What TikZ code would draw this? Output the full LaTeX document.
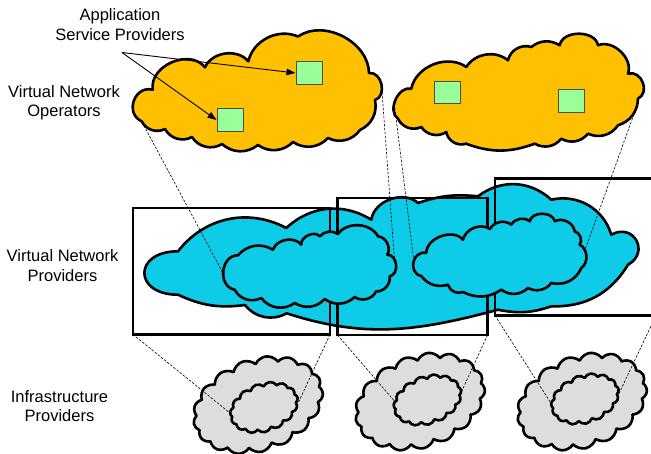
\documentclass[tikz,border=0pt]{standalone}
\usepackage{fontspec}
\setmainfont{Liberation Sans}
\usetikzlibrary{shapes.symbols,arrows.meta}

\definecolor{vnoFill}{RGB}{255,192,0}
\definecolor{vnpFill}{RGB}{14,203,232}
\definecolor{inpFill}{RGB}{221,221,221}
\definecolor{aspFill}{RGB}{153,255,153}

\begin{document}
\begin{tikzpicture}[x=1pt,y=-1pt,
  cloudline/.style={draw=black,line width=2.6pt,line join=round},
  puff/.style={bend left=#1},
  puffL/.style 2 args={bend left=#1,looseness=#2},
  infcloud/.style={cloud,cloudline,fill=inpFill,cloud ignores aspect,
                   cloud puff arc=120,inner sep=0pt},
  rectbox/.style={draw=black,line width=2.8pt,minimum width=#1,inner sep=0pt,outer sep=0pt},
  aspbox/.style={draw=black!70,fill=aspFill,line width=1pt,minimum width=26pt,
                 minimum height=22.5pt,inner sep=0pt},
  link/.style={draw=black,line width=0.6pt,dash pattern=on 2.5pt off 1.5pt},
  aspArrow/.style={draw=black,line width=0.9pt,-{Triangle[length=9pt,width=6.5pt]}},
  lbl/.style={align=center,inner sep=0pt,font=\fontsize{16.5}{19.5}\selectfont}]
\useasboundingbox (0,0) rectangle (651,453);

% ---------- virtual network operators (orange clouds) ----------
\draw[cloudline,fill=vnoFill] (141.7,121.3)
  to[puffL={85}{1.45}] (152.7,89.7)
  to[puffL={75}{1.1}] (205,67.3)
  to[puff=58] (248.3,61.3)
  to[puff=50] (298,36.5)
  to[puff=62] (369,73)
  to[puffL={85}{1.2}] (375,100)
  to[puff=38] (360,130)
  to[puff=40] (328,138)
  to[puff=40] (293,142)
  to[puff=40] (258,145)
  to[puff=40] (222,144)
  to[puff=45] (192,137)
  to[puff=45] (165,129)
  to[puff=45] (141.7,121.3) -- cycle;

\draw[cloudline,fill=vnoFill] (398,118.7)
  to[puffL={80}{1.05}] (411.3,88.7)
  to[puff=57] (466.3,67)
  to[puff=48] (508,60.3)
  to[puff=48] (531.3,47)
  to[puff=35] (559.7,45.3)
  to[puffL={80}{1.05}] (598,45.3)
  to[puff=66] (628,73.7)
  to[puffL={85}{1.33}] (638,98.7)
  to[puff=35] (618,125.3)
  to[puff=40] (588,133.7)
  to[puff=40] (561.3,138.7)
  to[puff=40] (534.7,143.7)
  to[puff=20] (466,143.7)
  to[puff=50] (446.3,132)
  to[puff=45] (421.3,127)
  to[puff=45] (398,118.7) -- cycle;

% ---------- virtual network providers (blue clouds) ----------
\draw[cloudline,fill=vnpFill] (178,294.7)
  to[puffL={90}{2.65}] (178,251.3)
  to[puff=40] (286.3,228)
  to[puff=37] (371.3,219.7)
  to[puff=62] (418,203)
  to[puff=12] (478,196.3)
  to[puff=40] (551.3,199.7)
  to[puff=43] (611.3,234.7)
  to[puffL={90}{1.9}] (628,264.7)
  to[puff=30] (551.3,306.3)
  to[puff=15] (498,309.7)
  to[out=195,in=-18] (286.7,313.3)
  to[puff=40] (245,305)
  to[puff=16] (178,294.7) -- cycle;

% slices of the infrastructure
\node[rectbox=197pt,minimum height=126.5pt] (rA) at (231.5,271.25) {};
\node[rectbox=150pt,minimum height=137pt] (rB) at (412.5,266.5) {};
\node[rectbox=161pt,minimum height=137pt] (rC) at (575.5,247) {};

% operators mapped onto provider networks
\coordinate (o1L) at (142,122);
\coordinate (o1R) at (382,92);
\coordinate (o2L) at (394.8,108);
\coordinate (o2R) at (638,103);
\coordinate (i1L) at (223.5,274);
\coordinate (i1R) at (394.5,260);
\coordinate (i2L) at (414,262);
\coordinate (i2R) at (585,250);
\draw[link] (o1L) -- (i1L);
\draw[link] (o1R) -- (i1R);
\draw[link] (o2L) -- (i2L);
\draw[link] (o2R) -- (i2R);

\draw[cloudline,fill=vnpFill] (234.7,289.7)
  to[puffL={85}{1.3}] (238,255.3)
  to[puff=40] (273,249.7)
  to[puff=62] (301.3,244.7)
  to[puff=75] (319.7,236.3)
  to[puff=40] (338,234)
  to[puff=58] (378,236.3)
  to[puff=58] (387.3,254.7)
  to[puffL={85}{1.2}] (389.7,276.3)
  to[puff=50] (376,291.5)
  to[puff=50] (354.7,297)
  to[puff=40] (324.7,299)
  to[puff=40] (294.7,303)
  to[puff=45] (261.3,298)
  to[puff=45] (234.7,289.7) -- cycle;

\draw[cloudline,fill=vnpFill] (421.3,276)
  to[puffL={90}{1.55}] (426.3,253)
  to[puff=70] (463,239.7)
  to[puff=55] (490,229)
  to[puff=50] (511.3,224.7)
  to[puff=50] (529.7,221.3)
  to[puffL={80}{1.05}] (554.7,221.3)
  to[puff=55] (574.7,231.3)
  to[puff=55] (579.7,244.7)
  to[puff=60] (581.3,268)
  to[puff=40] (551.3,283)
  to[puff=40] (528,288)
  to[puff=40] (501.3,289.7)
  to[puff=30] (463,292)
  to[puff=50] (448,284.7)
  to[puff=35] (421.3,276) -- cycle;

% ---------- infrastructure providers (grey clouds) ----------
\node[infcloud,cloud puffs=17,minimum width=134pt,minimum height=92pt,rotate=20] (g1) at (258,405) {};
\node[infcloud,cloud puffs=17,minimum width=134pt,minimum height=92pt,rotate=20] (g2) at (420,401.5) {};
\node[infcloud,cloud puffs=17,minimum width=134pt,minimum height=92pt,rotate=20] (g3) at (582,401.5) {};

\coordinate (g1L) at (230,413);
\coordinate (g1R) at (298,403.3);
\coordinate (g2L) at (395,401.7);
\coordinate (g2R) at (460,395);
\coordinate (g3L) at (550,401.7);
\coordinate (g3R) at (618.3,395);
\draw[link] (rA.south west) -- (g1L);
\draw[link] (rA.south east) -- (g1R);
\draw[link] (rB.south west) -- (g2L);
\draw[link] (rB.south east) -- (g2R);
\draw[link] (rC.south west) -- (g3L);
\draw[link] (rC.south east) -- (g3R);

\node[infcloud,cloud puffs=15,minimum width=70pt,minimum height=48pt,rotate=20] (g1in) at (264,407.5) {};
\node[infcloud,cloud puffs=15,minimum width=70pt,minimum height=48pt,rotate=20] (g2in) at (427.5,400) {};
\node[infcloud,cloud puffs=15,minimum width=70pt,minimum height=48pt,rotate=20] (g3in) at (585,399) {};

% ---------- application service providers ----------
\node[aspbox] (sq1) at (309,73) {};
\node[aspbox] (sq2) at (230,120) {};
\node[aspbox] (sq3) at (447,92.5) {};
\node[aspbox] (sq4) at (571,101) {};

\node[lbl] (asp) at (120,24.5) {Application\\Service Providers};
\coordinate (aspfoot) at (122,52.5);
\draw[aspArrow] (aspfoot) -- (sq1.west);
\draw[aspArrow] (aspfoot) -- (sq2.west);

% ---------- layer names ----------
\node[lbl] (vno) at (64,102.5) {Virtual Network\\Operators};
\node[lbl] (vnp) at (62.5,265.5) {Virtual Network\\Providers};
\node[lbl] (inp) at (59.5,406) {Infrastructure\\Providers};
\end{tikzpicture}
\end{document}
